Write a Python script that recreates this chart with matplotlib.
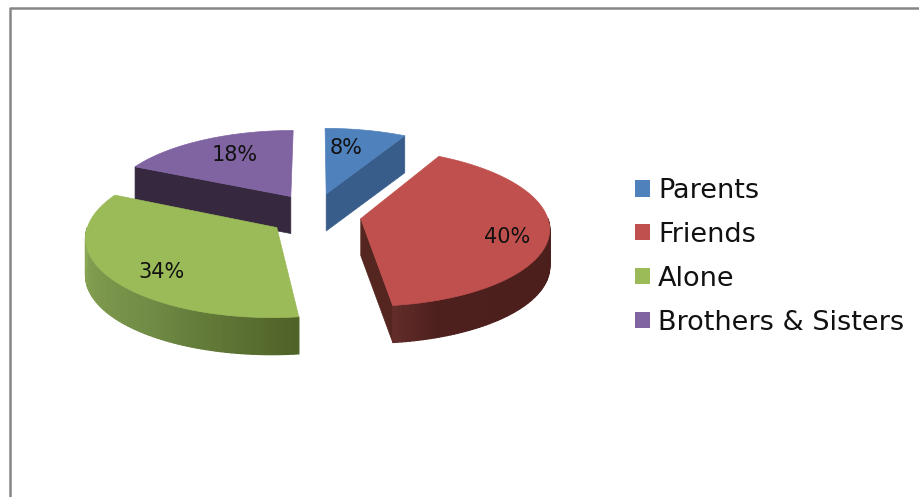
import numpy as np
from matplotlib import pyplot as plt
from matplotlib.colors import to_rgb
from matplotlib.patches import Patch, Polygon

categories = ['Parents', 'Friends', 'Alone', 'Brothers & Sisters']
shares = [8, 40, 34, 18]
top_colors = ['#4F81BD', '#C0504D', '#9BBB59', '#8064A2']

# look of the fake 3d pie, in pixels
cx, cy = 315, 214.5
rx, ry = 186, 77
explode_x, explode_v = 0.249, 0.284
persp = 0.11
depth = 37

# (wall angle in degrees, colour) pairs for the curved outer walls
arc_walls = {
    1: [(90, '#4A1E1B'), (160, '#4E201D'), (172.8, '#632D2B')],
    2: [(172.8, '#4F6228'), (215, '#708B45'), (270, '#8CA855')],
}
cut_walls = {0: '#385D8A', 1: '#55251F', 3: '#35283F'}
label_pos = [(346, 148), (507, 237), (162, 272), (235, 155)]
draw_order = [0, 3, 1, 2]

plt.rcParams['font.family'] = 'DejaVu Sans'
fig = plt.figure(figsize=(9.19, 4.97), dpi=100)
ax = fig.add_axes([0, 0, 1, 1])
ax.set_xlim(0, 919)
ax.set_ylim(497, 0)
ax.axis('off')

# chart frame
ax.plot([9.5, 9.5, 919], [497, 8, 8], color='#868686', lw=1.8, solid_capstyle='butt')


def project(a, b):
    # a to the right, b away from the viewer, both in pie radii
    s = 1 / (1 + persp * b)
    return cx + rx * a * s, cy - ry * b * s


def rim(angles, off):
    # angles clockwise from 12 o'clock, top face of one slice
    t = np.radians(angles)
    return project(off[0] + np.sin(t), off[1] + np.cos(t))


edges = np.concatenate([[0], np.cumsum(shares)]) / sum(shares) * 360

for i in draw_order:
    a0, a1 = edges[i], edges[i + 1]
    mid = np.radians((a0 + a1) / 2)
    off = (explode_x * np.sin(mid), explode_v * np.cos(mid))
    apex = project(off[0], off[1])

    # flat wall along the cut that faces the viewer
    if i in cut_walls:
        a_cut = a0 if i == 3 else a1
        x, y = rim(np.array([a_cut]), off)
        ax.add_patch(Polygon([apex, (x[0], y[0]), (x[0], y[0] + depth),
                              (apex[0], apex[1] + depth)],
                             closed=True, fc=cut_walls[i], ec=cut_walls[i], lw=0.5))

    # curved wall, drawn as thin strips to get the shading
    if i in arc_walls:
        stops = arc_walls[i]
        pos = [p[0] for p in stops]
        rgb = np.array([to_rgb(p[1]) for p in stops])
        ang = np.linspace(pos[0], pos[-1], 70)
        x, y = rim(ang, off)
        for j in range(len(ang) - 1):
            c = [np.interp(ang[j], pos, rgb[:, k]) for k in range(3)]
            ax.add_patch(Polygon([(x[j], y[j]), (x[j + 1], y[j + 1]),
                                  (x[j + 1], y[j + 1] + depth), (x[j], y[j] + depth)],
                                 closed=True, fc=c, ec=c, lw=1))

    # top face
    x, y = rim(np.linspace(a0, a1, 120), off)
    ax.add_patch(Polygon(np.vstack([[apex], np.column_stack([x, y])]),
                         closed=True, fc=top_colors[i], ec=top_colors[i], lw=0.5))

for share, (lx, ly) in zip(shares, label_pos):
    ax.text(lx, ly, f'{share}%', ha='center', va='center', fontsize=15, color='#111111')

handles = [Patch(fc=c, ec='none') for c in top_colors]
ax.legend(handles, categories, loc='upper left', bbox_to_anchor=(635, 178),
          bbox_transform=ax.transData, frameon=False, fontsize=19.5, borderpad=0,
          borderaxespad=0, handlelength=0.55, handleheight=0.55, handletextpad=0.3,
          labelspacing=0.66, labelcolor='#111111')

plt.savefig('out.png', dpi=100)
